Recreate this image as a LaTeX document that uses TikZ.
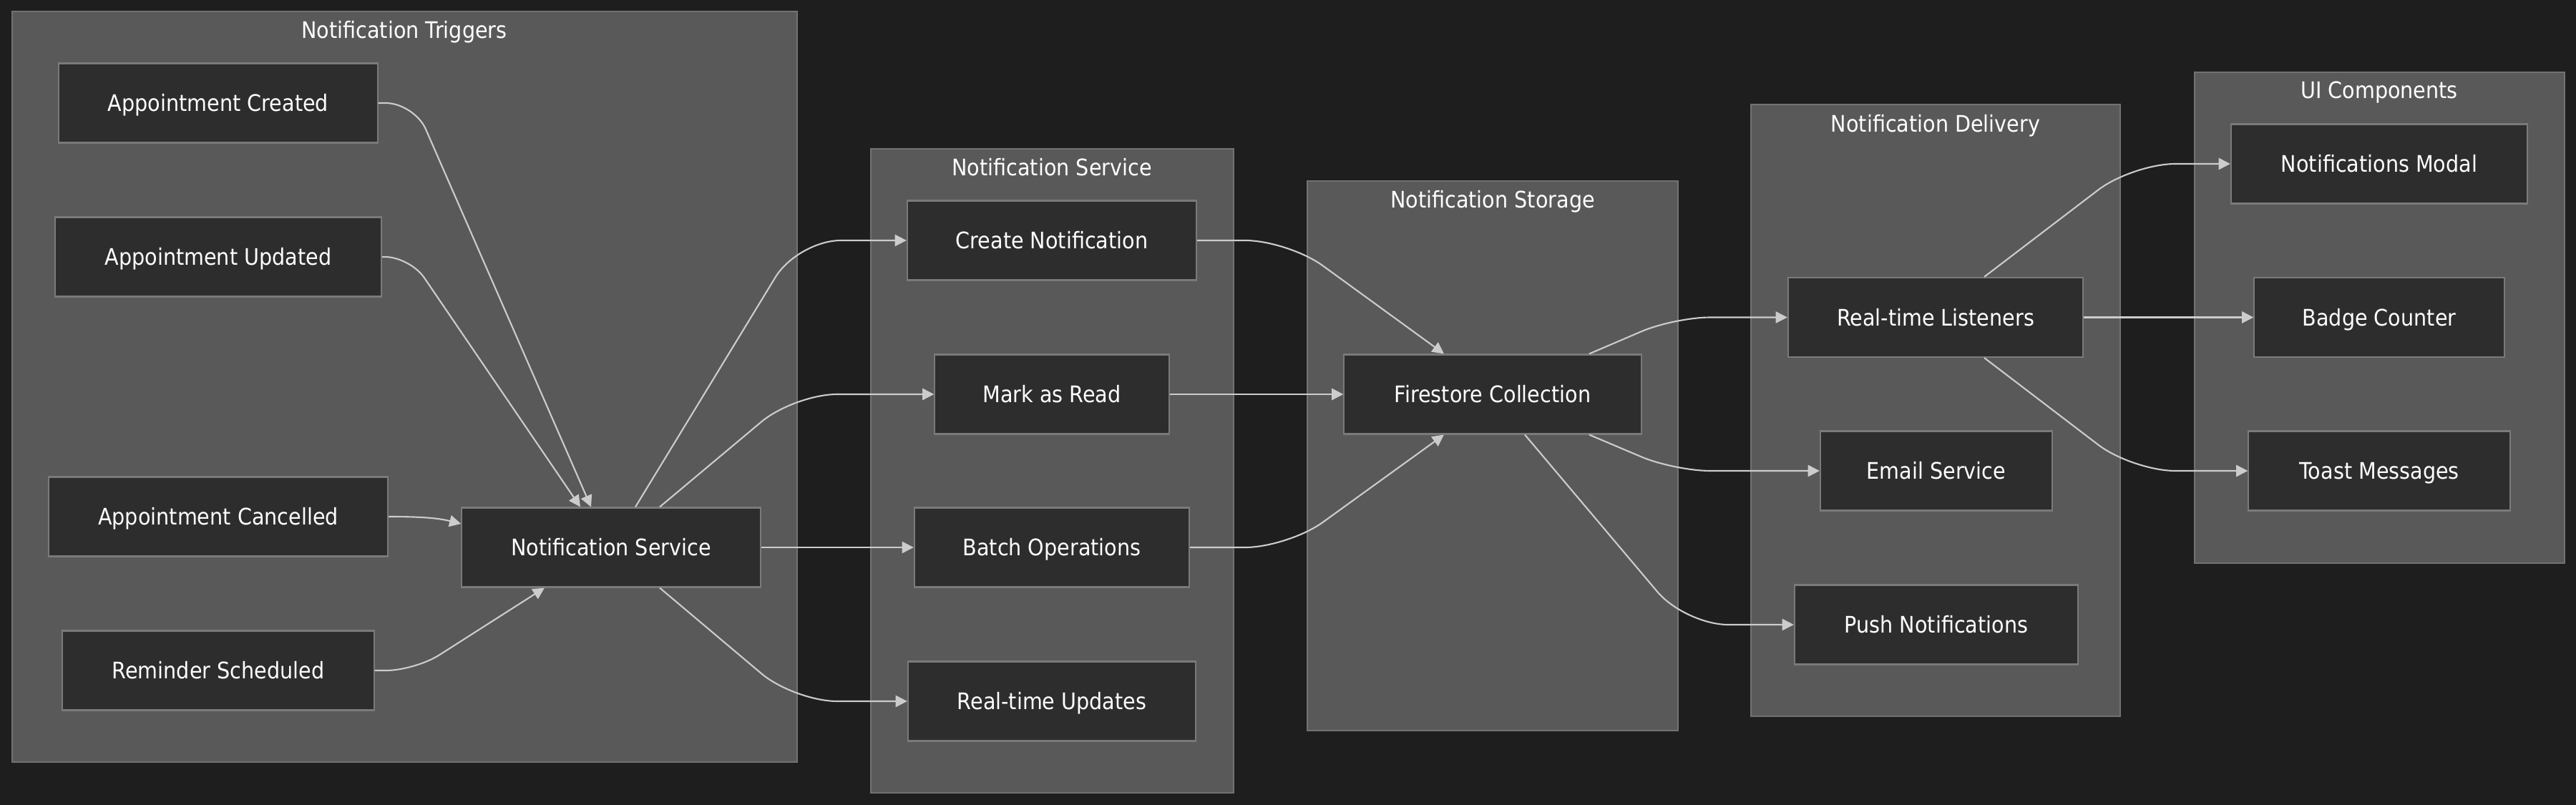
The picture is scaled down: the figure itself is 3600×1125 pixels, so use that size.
\documentclass[tikz,border=0pt]{standalone}
\usepackage{fontspec}
\setmainfont{DejaVu Sans}[FakeStretch=0.9]
\usetikzlibrary{arrows.meta}
\definecolor{bg}{HTML}{1E1E1E}
\definecolor{clfill}{HTML}{595959}
\definecolor{clstroke}{HTML}{727272}
\definecolor{ndfill}{HTML}{2D2D2D}
\definecolor{ndstroke}{HTML}{7A7A7A}
\definecolor{edgecol}{HTML}{CCCCCC}
\begin{document}
\begin{tikzpicture}[x=0.01cm,y=-0.01cm,
  font=\fontsize{9.05pt}{11pt}\selectfont,
  cluster/.style={fill=clfill,draw=clstroke,line width=0.6pt},
  cltitle/.style={text=white,inner sep=0pt,text height=6.6pt,text depth=0pt},
  box/.style={draw=ndstroke,fill=ndfill,line width=0.6pt,text=white,
    minimum height=1.11cm,minimum width=#1,inner sep=0pt,
    text height=6.6pt,text depth=0pt},
  conn/.style={draw=edgecol,line width=0.6pt,rounded corners=#1,
    -{Triangle[length=4.6pt,width=4.6pt]}},
  conn/.default=0.5cm]
\fill[bg] (0,0) rectangle (3600,1125);
\useasboundingbox (0,0) rectangle (3600,1125);
% clusters
\draw[cluster] (17,16) rectangle (1114,1065);
\node[cltitle] (t1) at (565,42) {Notification Triggers};
\draw[cluster] (1217,208) rectangle (1724,1108);
\node[cltitle] (t2) at (1470,234) {Notification Service};
\draw[cluster] (1827,253) rectangle (2345,1021);
\node[cltitle] (t3) at (2086,279) {Notification Storage};
\draw[cluster] (2447,146) rectangle (2963,1001);
\node[cltitle] (t4) at (2705,173) {Notification Delivery};
\draw[cluster] (3067,101) rectangle (3584,787);
\node[cltitle] (t5) at (3325,126) {UI Components};
% nodes
\node[box=4.45cm] (c1) at (305,144) {Appointment Created};
\node[box=4.56cm] (c2) at (305,359) {Appointment Updated};
\node[box=4.74cm] (c3) at (305,722) {Appointment Cancelled};
\node[box=4.35cm] (c4) at (305,937) {Reminder Scheduled};
\node[box=4.17cm] (ns) at (854,765) {Notification Service};
\node[box=4.04cm] (cn) at (1470,336) {Create Notification};
\node[box=3.27cm] (mr) at (1470,551) {Mark as Read};
\node[box=3.84cm] (bo) at (1470,765) {Batch Operations};
\node[box=4.02cm] (ru) at (1470,980) {Real-time Updates};
\node[box=4.15cm] (fc) at (2086,551) {Firestore Collection};
\node[box=4.12cm] (rl) at (2705,443.5) {Real-time Listeners};
\node[box=3.24cm] (es) at (2706,658) {Email Service};
\node[box=3.96cm] (pn) at (2706,873) {Push Notifications};
\node[box=4.14cm] (nm) at (3325,229) {Notifications Modal};
\node[box=3.49cm] (bc) at (3325,443.5) {Badge Counter};
\node[box=3.65cm] (tm) at (3325,658) {Toast Messages};
% edges: triggers -> service
\draw[conn=0.4cm] (c1.east) -- (579,144) -- ([xshift=-0.28cm]ns.north);
\draw[conn=0.35cm] (c2.east) -- (573,359) -- ([xshift=-0.43cm]ns.north);
\draw[draw=edgecol,line width=0.6pt,-{Triangle[length=4.6pt,width=4.6pt]}]
  (c3.east) .. controls (590,722) and (612,724) .. ([yshift=0.33cm]ns.west);
\draw[conn=0.4cm] (c4.east) -- (580,937) -- ([xshift=-0.93cm]ns.south);
% service -> operations
\draw[conn=0.6cm] ([xshift=0.34cm]ns.north) -- (1115,336) -- (cn.west);
\draw[conn=0.6cm] ([xshift=0.68cm]ns.north) -- (1110,551) -- (mr.west);
\draw[conn] (ns.east) -- (bo.west);
\draw[conn=0.6cm] ([xshift=0.68cm]ns.south) -- (1110,980) -- (ru.west);
% operations -> storage
\draw[conn=0.6cm] (cn.east) -- (1800,336) -- ([xshift=-0.68cm]fc.north);
\draw[conn] (mr.east) -- (fc.west);
\draw[conn=0.6cm] (bo.east) -- (1800,765) -- ([xshift=-0.68cm]fc.south);
% storage -> delivery
\draw[conn=0.5cm] ([xshift=1.35cm]fc.north) -- (2340,443.5) -- (rl.west);
\draw[conn=0.5cm] ([xshift=1.35cm]fc.south) -- (2340,658) -- (es.west);
\draw[conn=0.6cm] ([xshift=0.45cm]fc.south) -- (2355,873) -- (pn.west);
% delivery -> UI
\draw[conn=0.6cm] ([xshift=0.68cm]rl.north) -- (2980,229) -- (nm.west);
\draw[conn] (rl.east) -- (bc.west);
\draw[conn=0.6cm] ([xshift=0.68cm]rl.south) -- (2980,658) -- (tm.west);
\end{tikzpicture}
\end{document}
